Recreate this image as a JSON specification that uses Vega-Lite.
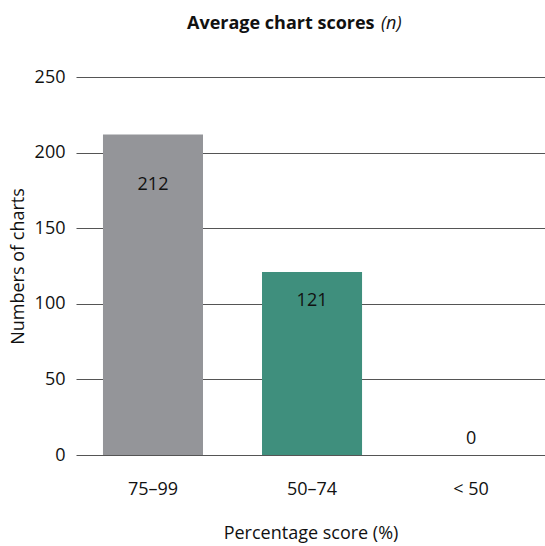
{
  "$schema": "https://vega.github.io/schema/vega-lite/v6.json",
  "width": 469,
  "height": 378,
  "autosize": {"type": "none"},
  "padding": {"left": 76, "top": 77, "right": 0, "bottom": 91},
  "config": {"font": "Open Sans", "view": {"stroke": null}},
  "title": {
    "text": "Average chart scores",
    "subtitle": "(n)",
    "anchor": "start",
    "frame": "group",
    "dx": 305,
    "offset": 35,
    "fontSize": 18,
    "fontWeight": "bold",
    "color": "#111111",
    "subtitleFontSize": 18,
    "subtitleFontStyle": "italic",
    "subtitleColor": "#111111",
    "subtitlePadding": -18,
    "encoding": {"dx": {"value": 111}}
  },
  "data": {
    "values": [
      {"score": "75–99", "count": 212},
      {"score": "50–74", "count": 121},
      {"score": "< 50", "count": 0}
    ]
  },
  "encoding": {
    "x": {
      "field": "score",
      "type": "nominal",
      "sort": null,
      "scale": {"paddingInner": 0.371, "paddingOuter": 0.16, "align": 0.53},
      "axis": {
        "labelAngle": 0,
        "domain": false,
        "ticks": false,
        "labelPadding": 25,
        "labelFontSize": 18,
        "labelColor": "#111111",
        "title": "Percentage score (%)",
        "titleFontSize": 18,
        "titleFontWeight": "normal",
        "titleColor": "#111111",
        "titlePadding": 26
      }
    }
  },
  "layer": [
    {
      "mark": {"type": "bar"},
      "encoding": {
        "y": {
          "field": "count",
          "type": "quantitative",
          "scale": {"domain": [0, 250]},
          "axis": {
            "values": [0, 50, 100, 150, 200, 250],
            "grid": true,
            "gridColor": "#555555",
            "gridWidth": 1,
            "gridOpacity": 1,
            "ticks": false,
            "domain": false,
            "labelPadding": 11,
            "labelFontSize": 18,
            "labelColor": "#111111",
            "title": "Numbers of charts",
            "titleFontSize": 18,
            "titleFontWeight": "normal",
            "titleColor": "#111111",
            "titlePadding": 7
          }
        },
        "color": {
          "field": "score",
          "type": "nominal",
          "sort": null,
          "scale": {"domain": ["75–99", "50–74", "< 50"], "range": ["#949599", "#3f8f7d", "#ffffff"]},
          "legend": null
        }
      }
    },
    {
      "transform": [{"filter": "datum.count > 0"}],
      "mark": {"type": "text", "baseline": "middle", "fontSize": 18, "color": "#111111"},
      "encoding": {
        "y": {"field": "count", "type": "quantitative", "scale": {"domain": [0, 297]}, "axis": null},
        "text": {"field": "count", "type": "quantitative"}
      }
    },
    {
      "transform": [{"filter": "datum.count == 0"}],
      "mark": {"type": "text", "baseline": "middle", "dy": -16, "fontSize": 18, "color": "#111111"},
      "encoding": {
        "y": {"field": "count", "type": "quantitative", "scale": {"domain": [0, 297]}, "axis": null},
        "text": {"field": "count", "type": "quantitative"}
      }
    }
  ],
  "resolve": {"scale": {"y": "independent"}}
}
